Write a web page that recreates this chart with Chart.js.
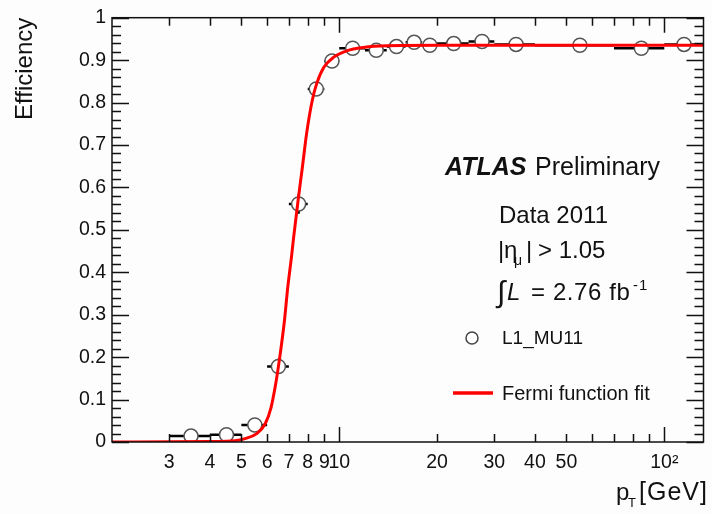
<!DOCTYPE html>
<html>
<head>
<meta charset="utf-8">
<script src="https://cdn.jsdelivr.net/npm/chart.js@4.4.1/dist/chart.umd.min.js"></script>
<style>
  html, body { margin: 0; padding: 0; background: #fcfdfc; }
  #wrap { width: 712px; height: 514px; }
</style>
</head>
<body>
<div id="wrap"><canvas id="effChart" width="712" height="514"></canvas></div>
<script>
// L1_MU11 efficiency vs pT
const binCentres = [3.5, 4.5, 5.5, 6.5, 7.5, 8.5, 9.5, 11, 13, 15, 17, 19, 22.5, 27.5, 35, 55, 85, 115];
const binLow     = [3, 4, 5, 6, 7, 8, 9, 10, 12, 14, 16, 18, 20, 25, 30, 40, 70, 100];
const binHigh    = [4, 5, 6, 7, 8, 9, 10, 12, 14, 16, 18, 20, 25, 30, 40, 70, 100, 130];
const efficiency = [0.014, 0.017, 0.040, 0.178, 0.561, 0.832, 0.898, 0.928, 0.923, 0.932, 0.942, 0.935, 0.939, 0.944, 0.937, 0.935, 0.928, 0.937];
const effErr     = [0, 0, 0, 0.018, 0.023, 0, 0, 0, 0, 0, 0, 0, 0, 0, 0, 0, 0, 0];

// Fermi function fit, sampled along the drawn red curve
const fitPt  = [2, 4.0, 4.78, 5.13, 5.56, 5.92, 6.17, 6.35, 6.47, 6.58, 6.78, 6.94, 7.14, 7.23, 7.48, 7.71, 7.94, 8.26, 8.52, 8.97, 9.62, 10.55, 11.86, 14, 20, 40, 80, 132];
const fitEff = [0, 0.001, 0.003, 0.008, 0.019, 0.043, 0.081, 0.129, 0.167, 0.206, 0.284, 0.362, 0.440, 0.478, 0.572, 0.650, 0.728, 0.805, 0.844, 0.883, 0.907, 0.922, 0.930, 0.934, 0.935, 0.935, 0.935, 0.935];

const xTickValues = [3, 4, 5, 6, 7, 8, 9, 10, 20, 30, 40, 50, 100];

const FONT = '"Liberation Sans", Arial, Helvetica, sans-serif';
const INK = '#111';
Chart.defaults.font.family = FONT;
Chart.defaults.color = INK;

// horizontal bin-width bars (and the few visible vertical ones), under the markers
const errorBars = {
    id: 'errorBars',
    beforeDatasetsDraw(chart) {
        const {ctx, scales: {x, y}} = chart;
        ctx.save();
        ctx.strokeStyle = '#000';
        ctx.lineWidth = 2.5;
        ctx.beginPath();
        binCentres.forEach((c, i) => {
            const py = y.getPixelForValue(efficiency[i]);
            ctx.moveTo(x.getPixelForValue(binLow[i]), py);
            ctx.lineTo(x.getPixelForValue(Math.min(binHigh[i], x.max)), py);
            if (effErr[i]) {
                const px = x.getPixelForValue(c);
                ctx.moveTo(px, y.getPixelForValue(efficiency[i] - effErr[i]));
                ctx.lineTo(px, y.getPixelForValue(efficiency[i] + effErr[i]));
            }
        });
        ctx.stroke();
        ctx.restore();
    }
};

// ROOT style frame with ticks pointing inwards
const frameTicks = {
    id: 'frameTicks',
    afterDatasetsDraw(chart) {
        const {ctx, chartArea: a, scales: {x, y}} = chart;
        ctx.save();
        ctx.strokeStyle = INK;
        ctx.lineWidth = 1.5;
        ctx.strokeRect(a.left, a.top, a.right - a.left, a.bottom - a.top);
        ctx.beginPath();
        for (let i = 0; i <= 50; i++) {
            const py = Math.round(y.getPixelForValue(i / 50)) + 0.5;
            const len = i % 5 === 0 ? 17 : 9;
            ctx.moveTo(a.left, py); ctx.lineTo(a.left + len, py);
            ctx.moveTo(a.right, py); ctx.lineTo(a.right - len, py);
        }
        for (let dec = 1; dec <= 100; dec *= 10) {
            for (let m = 1; m <= 9; m++) {
                const v = m * dec;
                if (v <= x.min || v >= x.max) continue;
                const px = Math.round(x.getPixelForValue(v)) + 0.5;
                const len = m === 1 ? 15 : 8;
                ctx.moveTo(px, a.bottom); ctx.lineTo(px, a.bottom - len);
                ctx.moveTo(px, a.top); ctx.lineTo(px, a.top + len);
            }
        }
        ctx.stroke();
        ctx.restore();
    }
};

// labels, legend and x title
const texts = [
    {t: 'ATLAS', x: 445, y: 175, f: 'italic bold 25px ' + FONT},
    {t: 'Preliminary', x: 535, y: 175, f: '25px ' + FONT},
    {t: 'Data 2011', x: 499, y: 223, f: '24px ' + FONT},
    {t: '|', x: 498, y: 258, f: '24px ' + FONT},
    {t: 'η', x: 504, y: 258, f: '24px ' + FONT},
    {t: 'μ', x: 514, y: 265, f: '14px ' + FONT},
    {t: '|', x: 526, y: 258, f: '24px ' + FONT},
    {t: '> 1.05', x: 538, y: 258, f: '24px ' + FONT},
    {t: '∫', x: 497, y: 302, f: '30px ' + FONT},
    {t: 'L', x: 507, y: 300, f: 'italic 24px ' + FONT},
    {t: '= 2.76 fb', x: 531, y: 300, f: '24px ' + FONT, sp: '0.6px'},
    {t: '-', x: 633, y: 290, f: '15px ' + FONT},
    {t: '1', x: 639, y: 290, f: '15px ' + FONT},
    {t: 'L1_MU11', x: 502, y: 344, f: '19px ' + FONT},
    {t: 'Fermi function fit', x: 502, y: 400, f: '20px ' + FONT},
    {t: 'p', x: 616, y: 500, f: '24px ' + FONT},
    {t: 'T', x: 628, y: 507, f: '13px ' + FONT},
    {t: '[GeV]', x: 639, y: 500, f: '25px ' + FONT, sp: '1px'}
];

const annotations = {
    id: 'annotations',
    afterDraw(chart) {
        const ctx = chart.ctx;
        ctx.save();
        ctx.fillStyle = INK;
        ctx.textBaseline = 'alphabetic';
        ctx.textAlign = 'left';
        texts.forEach(s => {
            ctx.font = s.f;
            ctx.letterSpacing = s.sp || '0px';
            ctx.fillText(s.t, s.x, s.y);
        });
        ctx.letterSpacing = '0px';
        // legend marker and line
        ctx.strokeStyle = '#444';
        ctx.fillStyle = '#fff';
        ctx.lineWidth = 1.5;
        ctx.beginPath();
        ctx.arc(472, 338, 6, 0, Math.PI * 2);
        ctx.fill();
        ctx.stroke();
        ctx.strokeStyle = '#ff0000';
        ctx.lineWidth = 3.5;
        ctx.beginPath();
        ctx.moveTo(453, 393);
        ctx.lineTo(493, 393);
        ctx.stroke();
        ctx.restore();
    }
};

const ctx = document.getElementById('effChart').getContext('2d');
const effChart = new Chart(ctx, {
    type: 'scatter',
    data: {
        datasets: [{
            label: 'Fermi function fit',
            data: fitPt.map((p, i) => ({x: p, y: fitEff[i]})),
            showLine: true,
            borderColor: '#ff0000',
            borderWidth: 3,
            pointRadius: 0,
            cubicInterpolationMode: 'monotone',
            order: 0
        }, {
            label: 'L1_MU11',
            data: binCentres.map((c, i) => ({x: c, y: efficiency[i]})),
            pointRadius: 7,
            pointBorderWidth: 1.5,
            pointBorderColor: '#555',
            pointBackgroundColor: '#fff',
            order: 1
        }]
    },
    options: {
        responsive: false,
        animation: false,
        events: [],
        layout: {padding: {top: 13, right: 1, left: 0, bottom: 0}},
        plugins: {legend: {display: false}, tooltip: {enabled: false}},
        scales: {
            x: {
                type: 'logarithmic',
                min: 2,
                max: 132,
                grid: {display: false, drawTicks: false},
                border: {display: false},
                afterBuildTicks: s => { s.ticks = xTickValues.map(v => ({value: v})); },
                afterFit: s => { s.height = 72; },
                ticks: {
                    autoSkip: false,
                    maxRotation: 0,
                    minRotation: 0,
                    padding: 9,
                    font: {size: 19.5},
                    callback: v => (v === 100 ? '10²' : String(v))
                }
            },
            y: {
                min: 0,
                max: 1,
                grid: {display: false, drawTicks: false},
                border: {display: false},
                afterFit: s => { s.width = 112; },
                ticks: {
                    stepSize: 0.1,
                    padding: 6,
                    font: {size: 19.5},
                    callback: v => String(Math.round(v * 10) / 10)
                },
                title: {
                    display: true,
                    text: 'Efficiency',
                    align: 'end',
                    font: {size: 24},
                    padding: {top: 11, bottom: 0}
                }
            }
        }
    },
    plugins: [errorBars, frameTicks, annotations]
});
</script>
</body>
</html>
